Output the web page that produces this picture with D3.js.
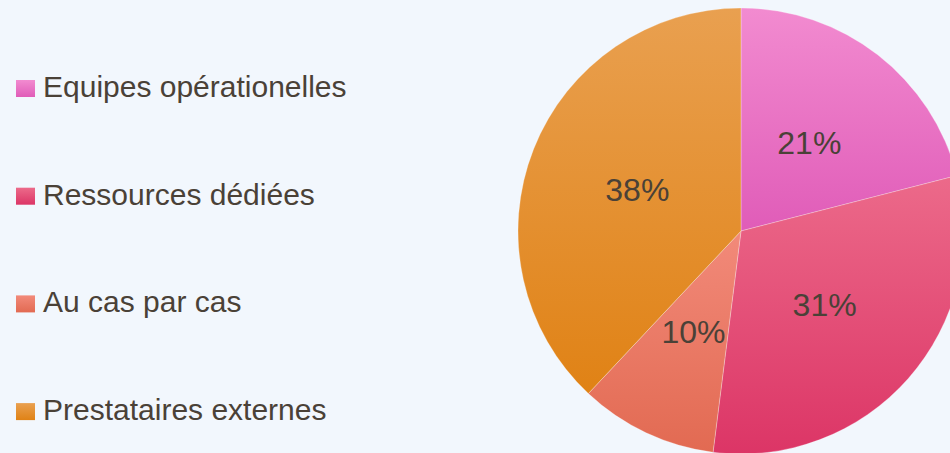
<!DOCTYPE html>
<html>
<head>
<meta charset="utf-8">
<script src="https://cdn.jsdelivr.net/npm/d3@7"></script>
<style>
  body { margin: 0; background: #f2f7fd; }
  svg { display: block; }
  text { font-family: "Liberation Sans Narrow", "Liberation Sans", sans-serif; fill: #4a4137; }
</style>
</head>
<body>
<div id="chart"></div>
<script>
var width = 950;
var height = 453;

// data
var categories = ["Equipes opérationelles", "Ressources dédiées", "Au cas par cas", "Prestataires externes"];
var values = [21, 31, 10, 38];
var topColors = ["#f28bd0", "#ec6a8a", "#f28a7a", "#e9a050"];
var bottomColors = ["#e05cb8", "#dc3566", "#e26a52", "#e08215"];

var svg = d3.select("#chart")
	.append("svg")
	.attr("width", width)
	.attr("height", height);

var defs = svg.append("defs");

// one vertical gradient per slice
categories.forEach(function(c, i) {
	var g = defs.append("linearGradient")
		.attr("id", "grad" + i)
		.attr("x1", "0%").attr("y1", "0%")
		.attr("x2", "0%").attr("y2", "100%");
	g.append("stop").attr("offset", "0%").attr("stop-color", topColors[i]);
	g.append("stop").attr("offset", "100%").attr("stop-color", bottomColors[i]);
});

///////////////////////// Pie /////////////////////////
var radius = 223;
var cx = 741, cy = 231;

var pie = d3.pie().sort(null).value(function(d) { return d; });
var arc = d3.arc().innerRadius(0).outerRadius(radius);

var g = svg.append("g")
	.attr("transform", "translate(" + cx + "," + cy + ")");

var slices = g.selectAll(".slice")
	.data(pie(values))
	.enter().append("g")
	.attr("class", "slice");

slices.append("path")
	.attr("d", arc)
	.attr("fill", function(d, i) { return "url(#grad" + i + ")"; })
	.attr("stroke", "rgba(255,255,255,0.35)")
	.attr("stroke-width", 0.8);

slices.append("text")
	.attr("transform", function(d) { return "translate(" + arc.centroid(d) + ")"; })
	.attr("text-anchor", "middle")
	.attr("dy", "0.36em")
	.style("font-size", "32px")
	.text(function(d) { return d.data + "%"; });

///////////////////////// Legend /////////////////////////
var legend = svg.selectAll(".legend")
	.data(categories)
	.enter().append("g")
	.attr("class", "legend")
	.attr("transform", function(d, i) { return "translate(16," + (97 + i * 107.7) + ")"; });

legend.append("rect")
	.attr("x", 0)
	.attr("y", -17)
	.attr("width", 19)
	.attr("height", 17)
	.attr("fill", function(d, i) { return "url(#grad" + i + ")"; });

legend.append("text")
	.attr("x", 27)
	.attr("y", 0)
	.style("font-size", "30px")
	.text(function(d) { return d; });
</script>
</body>
</html>
